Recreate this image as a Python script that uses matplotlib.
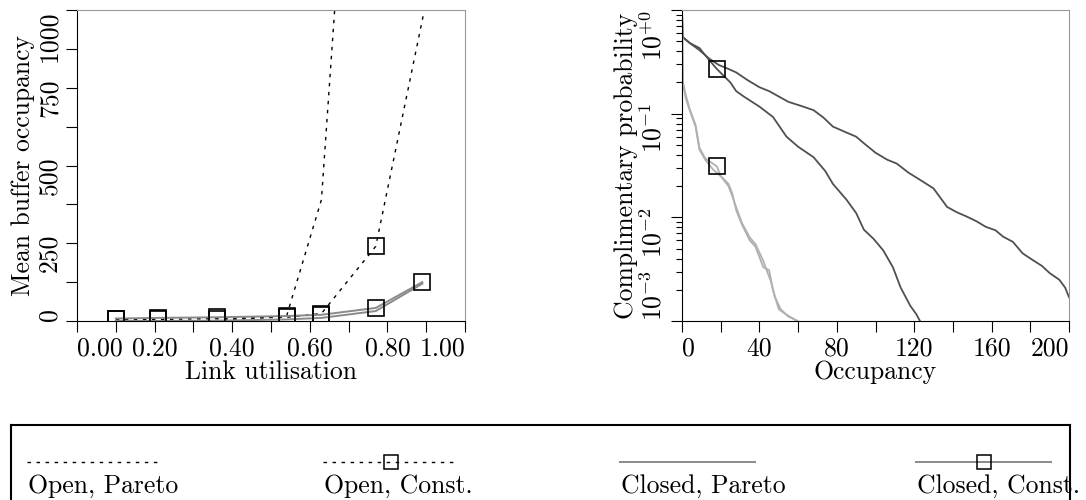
import matplotlib
matplotlib.use("Agg")
import matplotlib.pyplot as plt
from matplotlib.ticker import MultipleLocator, LogLocator, NullFormatter

plt.rcParams['font.family'] = ['cmr10', 'DejaVu Serif']
plt.rcParams['mathtext.fontset'] = 'cm'
plt.rcParams['axes.formatter.use_mathtext'] = True
plt.rcParams['font.size'] = 18.5

# left panel: mean buffer occupancy vs link utilisation
open_util = [0.10, 0.21, 0.36, 0.54, 0.63, 0.77, 0.92]
open_pareto = [0, 0, 2, 15, 390, 2900, 9000]
open_const = [5, 5, 8, 12, 24, 240, 1150]
closed_util = [0.10, 0.21, 0.36, 0.54, 0.63, 0.77, 0.89]
closed_pareto = [0, 0, 1, 5, 10, 32, 120]
closed_const = [8, 10, 12, 16, 20, 42, 125]
left_yticks = [0, 250, 500, 750, 1000]
left_xticks = [0.0, 0.2, 0.4, 0.6, 0.8, 1.0]

# right panel: complementary distribution of occupancy
occ_a = [0, 0.3, 4, 9, 14, 19, 24, 28, 34, 40, 45, 49, 55, 62, 68, 73, 78, 84, 90, 95,
         100, 106, 111, 117, 123, 130, 137, 142, 147, 152, 157, 162, 166, 171, 176,
         181, 186, 190, 195, 198, 200]
p_a = [1.0, 0.55, 0.48, 0.41, 0.34, 0.295, 0.27, 0.25, 0.21, 0.18, 0.165, 0.15, 0.13,
       0.118, 0.108, 0.092, 0.075, 0.067, 0.06, 0.05, 0.042, 0.036, 0.033, 0.027, 0.023,
       0.019, 0.0126, 0.0112, 0.0102, 0.0092, 0.0081, 0.0075, 0.0065, 0.0058, 0.0045,
       0.0039, 0.0034, 0.0029, 0.0025, 0.0021, 0.0017]
occ_b = [0, 0.3, 4, 9, 14, 18, 25, 28, 32, 40, 47, 54, 60, 68, 74, 78, 85, 90, 94, 99,
         104, 109, 113, 118, 121, 123]
p_b = [1.0, 0.55, 0.48, 0.43, 0.33, 0.27, 0.2, 0.165, 0.146, 0.117, 0.093, 0.06, 0.048,
       0.038, 0.028, 0.021, 0.0148, 0.011, 0.0076, 0.0062, 0.0048, 0.0033, 0.0021,
       0.0014, 0.00117, 0.001]
occ_c = [0, 0.5, 2, 4, 7, 9, 12, 16, 21, 24, 26, 28, 31, 35, 38, 42, 45, 47, 50, 54, 57, 59]
p_c = [1.0, 0.19, 0.14, 0.108, 0.075, 0.045, 0.036, 0.029, 0.024, 0.021, 0.017, 0.0117,
       0.0085, 0.006, 0.0052, 0.0033, 0.0031, 0.002, 0.0013, 0.00115, 0.00107, 0.001]
occ_d = [0, 0.5, 2, 4, 7, 9, 12, 18, 20, 24, 26, 28, 31, 35, 38, 42, 44, 46, 48, 51, 55, 60]
p_d = [1.0, 0.2, 0.15, 0.11, 0.078, 0.047, 0.037, 0.031, 0.025, 0.02, 0.016, 0.0125,
       0.0088, 0.0064, 0.0055, 0.0038, 0.003, 0.0024, 0.0017, 0.0013, 0.0011, 0.001]
right_xticks = [0, 40, 80, 120, 160, 200]
right_yticks = [1e-3, 1e-2, 1e-1, 1e0]
right_ylabels = [r'$10^{-3}$', r'$10^{-2}$', r'$10^{-1}$', r'$10^{+0}$']

legend_labels = ['Open, Pareto', 'Open, Const.', 'Closed, Pareto', 'Closed, Const.']

W, H = 1086, 500
fig = plt.figure(figsize=(W / 100, H / 100), dpi=100)

dotted = dict(color='black', lw=1.0, linestyle=(0, (2.5, 4)))
grey = dict(color='#8a8a8a', lw=1.4)
sq = dict(marker='s', markersize=11, markerfacecolor='none', markeredgecolor='black',
          markeredgewidth=1.2)


def style_axes(ax):
    for s in ['top', 'right']:
        ax.spines[s].set_color('#999999')
    ax.tick_params(which='both', direction='out', length=8, width=0.8,
                   top=False, right=False, pad=3)


# ---- left
ax1 = fig.add_axes([77 / W, 1 - 321 / H, (465 - 77) / W, (321 - 10) / H])
ax1.plot(open_util, open_pareto, **dotted)
ax1.plot(open_util, open_const, **dotted, **sq)
ax1.plot(closed_util, closed_pareto, **grey)
ax1.plot(closed_util, closed_const, **grey, **sq)
ax1.set_xlim(0, 1)
ax1.set_ylim(0, 1000)
ax1.set_xticks(left_xticks)
ax1.set_xticklabels(['%.2f' % v for v in left_xticks])
ax1.xaxis.set_minor_locator(MultipleLocator(0.1))
ax1.set_yticks(left_yticks)
ax1.set_yticklabels([str(v) for v in left_yticks], rotation=90)
ax1.yaxis.set_minor_locator(MultipleLocator(125))
style_axes(ax1)
ax1.set_xlabel('Link utilisation', labelpad=0)
ax1.set_ylabel('Mean buffer occupancy', labelpad=2)
xl = ax1.get_xticklabels()
xl[0].set_ha('left'); xl[-1].set_ha('right')
yl = ax1.get_yticklabels()
yl[0].set_va('bottom'); yl[-1].set_va('top')

# ---- right
ax2 = fig.add_axes([682 / W, 1 - 321 / H, (1069 - 682) / W, (321 - 10) / H])
ax2.plot(occ_a, p_a, color='#505050', lw=1.3)
ax2.plot(occ_b, p_b, color='#505050', lw=1.3, **sq, markevery=[5])
ax2.plot(occ_c, p_c, color='#b0b0b0', lw=1.3)
ax2.plot(occ_d, p_d, color='#b0b0b0', lw=1.3, **sq, markevery=[7])
ax2.set_yscale('log')
ax2.set_xlim(0, 200)
ax2.set_ylim(1e-3, 1)
ax2.set_xticks(right_xticks)
ax2.set_xticklabels([str(v) for v in right_xticks])
ax2.xaxis.set_minor_locator(MultipleLocator(20))
ax2.set_yticks(right_yticks)
ax2.set_yticklabels(right_ylabels, rotation=90)
ax2.yaxis.set_minor_locator(LogLocator(base=10, subs=range(2, 10)))
ax2.yaxis.set_minor_formatter(NullFormatter())
style_axes(ax2)
ax2.tick_params(axis='y', which='minor', length=4)
ax2.set_xlabel('Occupancy', labelpad=0)
ax2.set_ylabel('Complimentary probability', labelpad=2)
xl = ax2.get_xticklabels()
xl[0].set_ha('left'); xl[-1].set_ha('right')
yl = ax2.get_yticklabels()
yl[0].set_va('bottom'); yl[-1].set_va('top')

# ---- legend box, handles above labels
axl = fig.add_axes([11 / W, -0.1, (1070 - 11) / W, (75 + 50) / H])
axl.set_xlim(11, 1070)
axl.set_ylim(550, 425)
axl.set_xticks([]); axl.set_yticks([])
for s in axl.spines.values():
    s.set_linewidth(1.5)
starts = [27, 323, 620, 916]
styles = [dotted, dotted, grey, grey]
marked = [False, True, False, True]
for x0, lab, st, mk in zip(starts, legend_labels, styles, marked):
    axl.plot([x0, x0 + 135], [462, 462], **st)
    if mk:
        axl.plot([x0 + 68], [462], marker='s', markersize=9.5, markerfacecolor='none',
                 markeredgecolor='black', markeredgewidth=1.1, linestyle='none')
    axl.text(x0 + 1, 493, lab, ha='left', va='baseline', clip_on=False)

fig.savefig('out.png', dpi=100)
